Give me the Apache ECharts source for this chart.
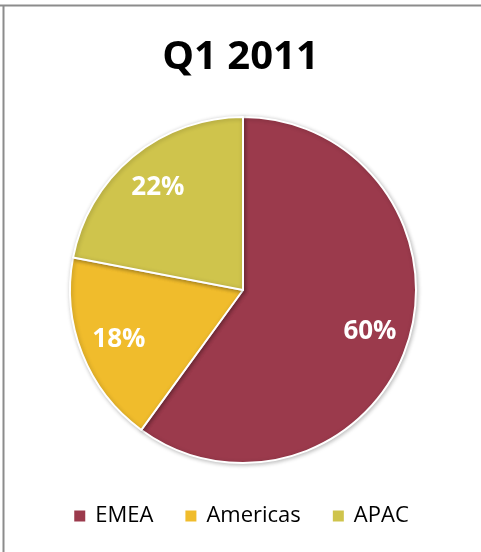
<!DOCTYPE html>
<html>
<head>
<meta charset="utf-8">
<script src="https://cdn.jsdelivr.net/npm/echarts@6/dist/echarts.min.js"></script>
<style>
html,body{margin:0;padding:0;background:#fff;}
#chart{width:481px;height:552px;}
</style>
</head>
<body>
<div id="chart"></div>
<script>
const titleText = 'Q1 2011';
const categories = ['EMEA', 'Americas', 'APAC'];
const values = [60, 18, 22];
const colors = ['#9B3A4C', '#F0BC2C', '#CFC44C'];

const FONT = '"Open Sans", "Noto Sans", sans-serif';
const data = categories.map((c, i) => ({ name: c, value: values[i], itemStyle: { color: colors[i] } }));

const chart = echarts.init(document.getElementById('chart'), null, { renderer: 'canvas' });
chart.setOption({
  animation: false,
  backgroundColor: '#fff',
  title: {
    text: titleText,
    left: 'center',
    top: 33,
    textStyle: { fontFamily: FONT, fontWeight: 'bold', fontSize: 40, color: '#000' }
  },
  legend: {
    data: categories,
    bottom: 20,
    left: 'center',
    icon: 'rect',
    itemWidth: 13,
    itemHeight: 13,
    itemGap: 30,
    textStyle: { fontFamily: FONT, fontSize: 22, color: '#000', padding: [0, 0, 0, 4] }
  },
  graphic: [
    { type: 'line', shape: { x1: 0, y1: 5.5, x2: 481, y2: 5.5 }, style: { stroke: '#8c8c8c', lineWidth: 2 }, silent: true },
    { type: 'line', shape: { x1: 3.5, y1: 5, x2: 3.5, y2: 552 }, style: { stroke: '#8c8c8c', lineWidth: 2 }, silent: true }
  ],
  series: [
    {
      type: 'pie',
      center: [243, 290],
      radius: [0, 173],
      startAngle: 90,
      clockwise: true,
      data: data,
      label: { show: false },
      labelLine: { show: false },
      emphasis: { disabled: true },
      itemStyle: {
        borderColor: '#fff', borderWidth: 2,
        shadowColor: 'rgba(0,0,0,0.25)', shadowBlur: 4, shadowOffsetX: 1, shadowOffsetY: 1
      }
    },
    {
      type: 'pie',
      center: [243, 290],
      radius: [88, 173],
      startAngle: 90,
      clockwise: true,
      silent: true,
      data: data.map(d => ({ name: d.name, value: d.value })),
      itemStyle: { color: 'rgba(0,0,0,0)', borderWidth: 0 },
      emphasis: { disabled: true },
      labelLine: { show: false },
      label: {
        show: true,
        position: 'inside',
        formatter: '{d}%',
        fontFamily: FONT,
        fontWeight: 'bold',
        fontSize: 26,
        color: '#fff'
      }
    }
  ]
});
</script>
</body>
</html>
